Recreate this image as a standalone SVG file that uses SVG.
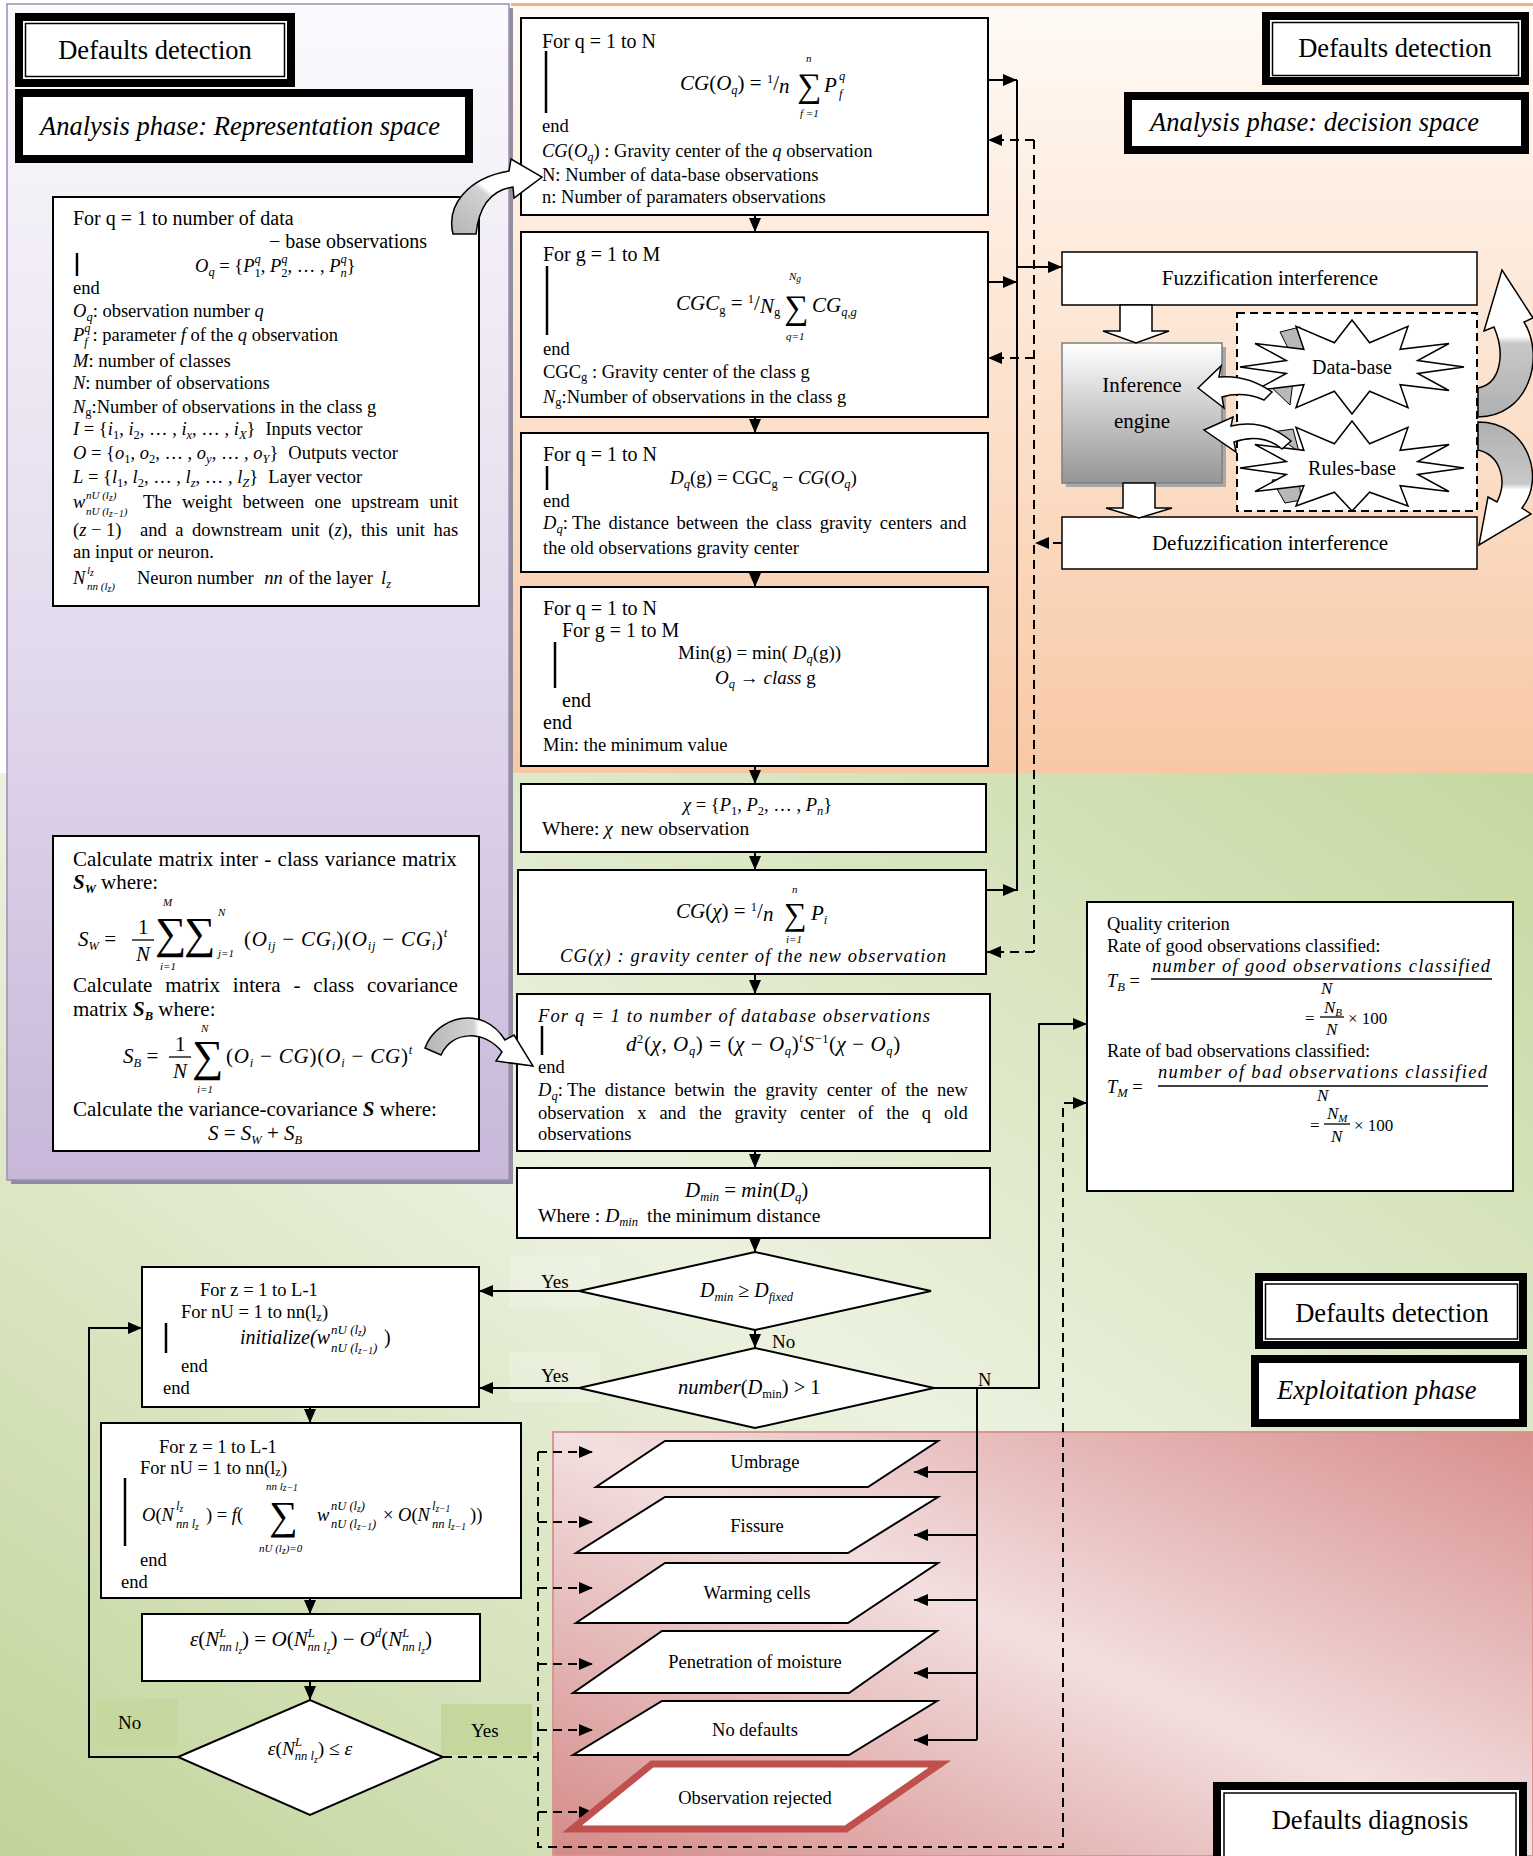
<svg xmlns="http://www.w3.org/2000/svg" width="1533" height="1856" viewBox="0 0 1533 1856">
<defs>
<style>
text{font-family:"Liberation Serif","Times New Roman",serif;fill:#000}
.t{font-size:18.5px}
.cm{font-size:20px}
.c{font-size:21px}
.h{font-size:26.5px}
.e{font-size:21px}
.f{font-size:21px}
.i{font-style:italic}
.n{font-style:normal}
.b{font-weight:bold}
.s{font-size:12.5px}
.l{font-size:11px}
.ss{font-size:9.5px}
.sg{font-size:34px;font-style:normal}
.sgb{font-size:44px;font-style:normal}
.fn{font-size:17px}
.box{fill:#fff;stroke:#000;stroke-width:2}
.ln{stroke:#000;stroke-width:2;fill:none}
.dl{stroke:#000;stroke-width:2;fill:none;stroke-dasharray:9 6}
.bar{stroke:#000;stroke-width:2.5}
.hd{fill:#fff;stroke:#000;stroke-width:8}
.hi{fill:none;stroke:#000;stroke-width:1.5}
.par{fill:#fff;stroke:#000;stroke-width:2}
.fr{stroke:#000;stroke-width:1.3}
.star{fill:#fff;stroke:#000;stroke-width:1.5}
.gp{fill:#b8b8b8;stroke:#000;stroke-width:1}
.lbg{fill:#c4d79c}
</style>
<linearGradient id="gOr" x1="0" y1="0" x2="0" y2="1"><stop offset="0" stop-color="#fffaf5"/><stop offset="0.4" stop-color="#fde7d6"/><stop offset="1" stop-color="#f8c8a4"/></linearGradient>
<linearGradient id="gPu" x1="0" y1="0" x2="0" y2="1"><stop offset="0" stop-color="#fbfafd"/><stop offset="0.55" stop-color="#e3daed"/><stop offset="1" stop-color="#c8b7d9"/></linearGradient>
<linearGradient id="gGr" x1="0" y1="1" x2="1" y2="0"><stop offset="0" stop-color="#c1d499"/><stop offset="0.5" stop-color="#ecf2e0"/><stop offset="1" stop-color="#c5d8a0"/></linearGradient>
<linearGradient id="gPk" x1="0" y1="1" x2="1" y2="0"><stop offset="0" stop-color="#d48a88"/><stop offset="0.5" stop-color="#f3dfdf"/><stop offset="1" stop-color="#d88f8e"/></linearGradient>
<linearGradient id="gIn" x1="0" y1="0" x2="0" y2="1"><stop offset="0" stop-color="#ffffff"/><stop offset="1" stop-color="#959595"/></linearGradient>
<linearGradient id="gCv" x1="0" y1="1" x2="1" y2="0"><stop offset="0" stop-color="#b5b5b5"/><stop offset="0.45" stop-color="#d2d2d2"/><stop offset="0.5" stop-color="#ffffff"/><stop offset="1" stop-color="#ffffff"/></linearGradient>
<linearGradient id="gCh" x1="0" y1="0" x2="1" y2="0"><stop offset="0" stop-color="#b5b5b5"/><stop offset="0.45" stop-color="#d2d2d2"/><stop offset="0.5" stop-color="#ffffff"/><stop offset="1" stop-color="#ffffff"/></linearGradient>
<linearGradient id="gUp" x1="0" y1="0" x2="0" y2="1"><stop offset="0" stop-color="#ffffff"/><stop offset="0.45" stop-color="#ffffff"/><stop offset="0.5" stop-color="#c8c8c8"/><stop offset="1" stop-color="#b0b0b0"/></linearGradient>
<linearGradient id="gDn" x1="0" y1="0" x2="0" y2="1"><stop offset="0" stop-color="#b0b0b0"/><stop offset="0.5" stop-color="#c8c8c8"/><stop offset="0.55" stop-color="#ffffff"/><stop offset="1" stop-color="#ffffff"/></linearGradient>
<marker id="ah" viewBox="0 0 14 12" refX="14" refY="6" markerWidth="14" markerHeight="12" markerUnits="userSpaceOnUse" orient="auto"><path d="M0,0 L14,6 L0,12 z" fill="#000"/></marker>
</defs>

<g id="background">
<rect x="0" y="0" width="1533" height="1856" fill="#fff"/>
<rect x="0" y="773" width="1533" height="1083" fill="url(#gGr)"/>
<rect x="511" y="4" width="1022" height="769" fill="url(#gOr)"/>
<line x1="511" y1="4.5" x2="1533" y2="4.5" stroke="#f4b183" stroke-width="3"/>
<rect x="11" y="8" width="502" height="1176" fill="#8f8f9c"/>
<rect x="7" y="4" width="502" height="1176" fill="url(#gPu)" stroke="#a08cb8" stroke-width="1.5"/>
<rect x="553" y="1432" width="980" height="424" fill="url(#gPk)" stroke="#d99694" stroke-width="2"/>
<rect x="509" y="1255" width="91" height="53" fill="#fff" opacity="0.2"/>
<rect x="509" y="1352" width="91" height="50" fill="#fff" opacity="0.2"/>
<rect class="lbg" x="97" y="1699" width="81" height="48" opacity="0.8"/>
<rect class="lbg" x="441" y="1704" width="91" height="51"/>
</g>

<g id="header-defaults-detection-tl">
<rect class="hd" x="19" y="17" width="272" height="66"/>
<rect class="hi" x="25.5" y="23.5" width="259" height="53"/>
<text class="h" x="155" y="59" text-anchor="middle">Defaults detection</text>
</g>
<g id="header-representation-space">
<rect class="hd" x="19" y="93" width="450" height="66"/>
<text class="h i" x="40" y="135">Analysis phase: Representation space</text>
</g>
<g id="header-defaults-detection-tr">
<rect class="hd" x="1266" y="16" width="259" height="65"/>
<rect class="hi" x="1272.5" y="22.5" width="246" height="53"/>
<text class="h" x="1395" y="57" text-anchor="middle">Defaults detection</text>
</g>
<g id="header-decision-space">
<rect class="hd" x="1128" y="96" width="397" height="54"/>
<text class="h i" x="1150" y="131">Analysis phase: decision space</text>
</g>
<g id="header-defaults-detection-br">
<rect class="hd" x="1259" y="1277" width="264" height="68"/>
<rect class="hi" x="1265.5" y="1284" width="252" height="55"/>
<text class="h" x="1392" y="1322" text-anchor="middle">Defaults detection</text>
</g>
<g id="header-exploitation-phase">
<rect class="hd" x="1255" y="1359" width="268" height="64"/>
<text class="h i" x="1277" y="1399">Exploitation phase</text>
</g>
<g id="header-defaults-diagnosis">
<rect class="hd" x="1217" y="1786" width="306" height="80"/>
<rect class="hi" x="1224" y="1793" width="292" height="70"/>
<text class="h" x="1370" y="1829" text-anchor="middle">Defaults diagnosis</text>
</g>

<g id="connectors">
<path class="ln" d="M755,215 V232" marker-end="url(#ah)"/>
<path class="ln" d="M755,417 V433" marker-end="url(#ah)"/>
<path class="ln" d="M755,572 V587" marker-end="url(#ah)"/>
<path class="ln" d="M755,766 V784" marker-end="url(#ah)"/>
<path class="ln" d="M755,852 V870" marker-end="url(#ah)"/>
<path class="ln" d="M755,974 V994" marker-end="url(#ah)"/>
<path class="ln" d="M755,1151 V1168" marker-end="url(#ah)"/>
<path class="ln" d="M755,1238 V1252" marker-end="url(#ah)"/>
<path class="ln" d="M755,1330 V1348" marker-end="url(#ah)"/>
<path class="ln" d="M988,80 H1017" marker-end="url(#ah)"/>
<path class="ln" d="M988,282 H1017" marker-end="url(#ah)"/>
<path class="ln" d="M987,890 H1017" marker-end="url(#ah)"/>
<path class="ln" d="M1017,80 V891"/>
<path class="ln" d="M1017,267 H1062" marker-end="url(#ah)"/>
<path class="dl" d="M1034,140 V952"/>
<path class="dl" d="M1034,140 H988" marker-end="url(#ah)"/>
<path class="dl" d="M1034,358 H988" marker-end="url(#ah)"/>
<path class="dl" d="M1034,952 H987" marker-end="url(#ah)"/>
<path class="dl" d="M1062,543 H1035" marker-end="url(#ah)"/>
<path class="ln" d="M579,1291 H479" marker-end="url(#ah)"/>
<path class="ln" d="M579,1388 H479" marker-end="url(#ah)"/>
<path class="ln" d="M934,1388 H1039 V1024 H1087" marker-end="url(#ah)"/>
<path class="ln" d="M977,1388 V1740"/>
<path class="ln" d="M977,1472 H914" marker-end="url(#ah)"/>
<path class="ln" d="M977,1535 H914" marker-end="url(#ah)"/>
<path class="ln" d="M977,1600 H914" marker-end="url(#ah)"/>
<path class="ln" d="M977,1673 H914" marker-end="url(#ah)"/>
<path class="ln" d="M977,1740 H914" marker-end="url(#ah)"/>
<path class="ln" d="M178,1757 H89 V1328 H142" marker-end="url(#ah)"/>
<path class="ln" d="M310,1407 V1423" marker-end="url(#ah)"/>
<path class="ln" d="M310,1598 V1614" marker-end="url(#ah)"/>
<path class="ln" d="M310,1681 V1700" marker-end="url(#ah)"/>
<path class="dl" d="M443,1757 H538"/>
<path class="dl" d="M538,1452 V1847 H1063 V1103 H1087" marker-end="url(#ah)"/>
<path class="dl" d="M538,1452 H593" marker-end="url(#ah)"/>
<path class="dl" d="M538,1522 H593" marker-end="url(#ah)"/>
<path class="dl" d="M538,1588 H593" marker-end="url(#ah)"/>
<path class="dl" d="M538,1664 H593" marker-end="url(#ah)"/>
<path class="dl" d="M538,1730 H593" marker-end="url(#ah)"/>
<path class="dl" d="M538,1812 H593" marker-end="url(#ah)"/>
<text class="t" x="541" y="1288" style="font-size:19px">Yes</text>
<text class="t" x="541" y="1382" style="font-size:19px">Yes</text>
<text class="t" x="772" y="1348" style="font-size:19px">No</text>
<text class="t" x="978" y="1386">N</text>
<text class="t" x="118" y="1729" style="font-size:19px">No</text>
<text class="t" x="471" y="1737" style="font-size:19px">Yes</text>
</g>

<g id="node-observations">
<rect class="box" x="53" y="197" width="426" height="409"/>
<text class="cm" x="73" y="225">For q = 1 to number of data</text>
<text class="cm" x="427" y="248" text-anchor="end">− base observations</text>
<line class="bar" x1="77" y1="253" x2="77" y2="276"/>
<text class="t" x="195" y="272"><tspan class="i">O</tspan><tspan class="s i" dy="4">q</tspan><tspan dy="-4"> = {</tspan><tspan class="i">P</tspan><tspan class="s" dy="5">1</tspan><tspan class="s i" dx="-6.25" dy="-14">q</tspan><tspan dy="9">, </tspan><tspan class="i">P</tspan><tspan class="s" dy="5">2</tspan><tspan class="s i" dx="-6.25" dy="-14">q</tspan><tspan dy="9">, … , </tspan><tspan class="i">P</tspan><tspan class="s i" dy="5">n</tspan><tspan class="s i" dx="-6.25" dy="-14">q</tspan><tspan dy="9">}</tspan></text>
<text class="t" x="73" y="294">end</text>
<text class="t" x="73" y="317"><tspan class="i">O</tspan><tspan class="s i" dy="4">q</tspan><tspan dy="-4">: observation number </tspan><tspan class="i">q</tspan></text>
<text class="t" x="73" y="341"><tspan class="i">P</tspan><tspan class="s i" dy="-9">q</tspan><tspan class="s i" dx="-6.25" dy="14">f</tspan><tspan dy="-5"> : parameter </tspan><tspan class="i">f</tspan> of the <tspan class="i">q</tspan> observation</text>
<text class="t" x="73" y="367"><tspan class="i">M</tspan>: number of classes</text>
<text class="t" x="73" y="389"><tspan class="i">N</tspan>: number of observations</text>
<text class="t" x="73" y="413"><tspan class="i">N</tspan><tspan class="s" dy="3">g</tspan><tspan dy="-3">:Number of observations in the class g</tspan></text>
<text class="t" x="73" y="435"><tspan class="i">I</tspan> = {<tspan class="i">i</tspan><tspan class="s" dy="4">1</tspan><tspan dy="-4">, </tspan><tspan class="i">i</tspan><tspan class="s" dy="4">2</tspan><tspan dy="-4">, … , </tspan><tspan class="i">i</tspan><tspan class="s i" dy="4">x</tspan><tspan dy="-4">, … , </tspan><tspan class="i">i</tspan><tspan class="s i" dy="4">X</tspan><tspan dy="-4">}</tspan><tspan dx="10">Inputs vector</tspan></text>
<text class="t" x="73" y="459"><tspan class="i">O</tspan> = {<tspan class="i">o</tspan><tspan class="s" dy="4">1</tspan><tspan dy="-4">, </tspan><tspan class="i">o</tspan><tspan class="s" dy="4">2</tspan><tspan dy="-4">, … , </tspan><tspan class="i">o</tspan><tspan class="s i" dy="4">y</tspan><tspan dy="-4">, … , </tspan><tspan class="i">o</tspan><tspan class="s i" dy="4">Y</tspan><tspan dy="-4">}</tspan><tspan dx="10">Outputs vector</tspan></text>
<text class="t" x="73" y="483"><tspan class="i">L</tspan> = {<tspan class="i">l</tspan><tspan class="s" dy="4">1</tspan><tspan dy="-4">, </tspan><tspan class="i">l</tspan><tspan class="s" dy="4">2</tspan><tspan dy="-4">, … , </tspan><tspan class="i">l</tspan><tspan class="s i" dy="4">z</tspan><tspan dy="-4">, … , </tspan><tspan class="i">l</tspan><tspan class="s i" dy="4">Z</tspan><tspan dy="-4">}</tspan><tspan dx="10">Layer vector</tspan></text>
<text class="t" x="73" y="508"><tspan class="i">w</tspan><tspan class="l i" x="86" y="499">nU (l</tspan><tspan class="ss i" dy="2">z</tspan><tspan class="l i" dy="-2">)</tspan><tspan class="l i" x="86" y="515">nU (l</tspan><tspan class="ss i" dy="2">z−1</tspan><tspan class="l i" dy="-2">)</tspan></text>
<text class="t" x="143" y="508" word-spacing="5.6">The weight between one upstream unit</text>
<text class="t" x="73" y="536">(<tspan class="i">z</tspan> − 1)</text>
<text class="t" x="140" y="536" word-spacing="3.9">and a downstream unit (<tspan class="i">z</tspan>), this unit has</text>
<text class="t" x="73" y="558">an input or neuron.</text>
<text class="t" x="73" y="584"><tspan class="i">N</tspan><tspan class="l i" x="87" y="574">l</tspan><tspan class="ss i" dy="2">z</tspan><tspan class="l i" x="87" y="590">nn (l</tspan><tspan class="ss i" dy="2">z</tspan><tspan class="l i" dy="-2">)</tspan></text>
<text class="t" x="137" y="584">Neuron number <tspan class="i" dx="6">nn</tspan><tspan dx="6">of the layer</tspan><tspan class="i" dx="8">l</tspan><tspan class="s i" dy="4">z</tspan></text>
</g>

<g id="node-variance-matrices">
<rect class="box" x="53" y="836" width="426" height="315"/>
<text class="c" x="73" y="866" word-spacing="1">Calculate matrix inter - class variance matrix</text>
<text class="c" x="73" y="889"><tspan class="b i">S</tspan><tspan class="b i s" dy="4">W</tspan><tspan dy="-4"> where:</tspan></text>
<text class="c" x="78" y="946"><tspan class="i">S</tspan><tspan class="s i" dy="4">W</tspan><tspan dy="-4"> =</tspan></text>
<text class="c" x="138" y="934">1</text>
<line class="fr" x1="132" y1="940" x2="154" y2="940"/>
<text class="c i" x="136" y="961">N</text>
<text class="l i"><tspan x="163" y="906">M</tspan><tspan class="sgb" x="155" y="948">∑</tspan><tspan x="160" y="970">i=1</tspan><tspan class="sgb" x="184" y="948">∑</tspan><tspan x="218" y="916">N</tspan><tspan x="218" y="957">j=1</tspan></text>
<text class="c" x="244" y="946" letter-spacing="0.8">(<tspan class="i">O</tspan><tspan class="s i" dy="4">ij</tspan><tspan dy="-4"> − </tspan><tspan class="i">CG</tspan><tspan class="s i" dy="4">i</tspan><tspan dy="-4">)(</tspan><tspan class="i">O</tspan><tspan class="s i" dy="4">ij</tspan><tspan dy="-4"> − </tspan><tspan class="i">CG</tspan><tspan class="s i" dy="4">i</tspan><tspan dy="-4">)</tspan><tspan class="s i" dy="-9">t</tspan></text>
<text class="c" x="73" y="992" word-spacing="7.6">Calculate matrix intera - class covariance</text>
<text class="c" x="73" y="1016">matrix <tspan class="b i">S</tspan><tspan class="b i s" dy="4">B</tspan><tspan dy="-4"> where:</tspan></text>
<text class="c" x="123" y="1063"><tspan class="i">S</tspan><tspan class="s i" dy="4">B</tspan><tspan dy="-4"> =</tspan></text>
<text class="c" x="175" y="1051">1</text>
<line class="fr" x1="169" y1="1057" x2="191" y2="1057"/>
<text class="c i" x="173" y="1078">N</text>
<text class="l i"><tspan x="201" y="1032">N</tspan><tspan class="sgb" x="192" y="1071">∑</tspan><tspan x="197" y="1093">i=1</tspan></text>
<text class="c" x="226" y="1063" letter-spacing="0.8">(<tspan class="i">O</tspan><tspan class="s i" dy="4">i</tspan><tspan dy="-4"> − </tspan><tspan class="i">CG</tspan>)(<tspan class="i">O</tspan><tspan class="s i" dy="4">i</tspan><tspan dy="-4"> − </tspan><tspan class="i">CG</tspan>)<tspan class="s i" dy="-9">t</tspan></text>
<text class="c" x="73" y="1116">Calculate the variance-covariance <tspan class="b i">S</tspan> where:</text>
<text class="c" x="208" y="1140"><tspan class="i">S</tspan> = <tspan class="i">S</tspan><tspan class="s i" dy="4">W</tspan><tspan dy="-4"> + </tspan><tspan class="i">S</tspan><tspan class="s i" dy="4">B</tspan></text>
</g>

<g id="node-gravity-observation">
<rect class="box" x="521" y="18" width="467" height="197"/>
<text class="cm" x="542" y="48">For q = 1 to N</text>
<line class="bar" x1="546" y1="51" x2="546" y2="113"/>
<text class="e" x="680" y="90"><tspan class="i">CG</tspan>(<tspan class="i">O</tspan><tspan class="s i" dy="4">q</tspan><tspan dy="-4">) = </tspan><tspan class="s" dy="-7">1</tspan><tspan dy="7">/</tspan><tspan class="i" dy="3">n</tspan></text>
<text class="l i"><tspan x="806" y="62">n</tspan><tspan class="sg" x="797" y="97">∑</tspan><tspan x="800" y="117">f =1</tspan></text>
<text class="e i"><tspan x="824" y="92">P</tspan><tspan class="s" x="839" y="80">q</tspan><tspan class="s" x="839" y="98">f</tspan></text>
<text class="t" x="542" y="132">end</text>
<text class="t" x="542" y="157"><tspan class="i">CG</tspan>(<tspan class="i">O</tspan><tspan class="s i" dy="4">q</tspan><tspan dy="-4">) : Gravity center of the </tspan><tspan class="i">q</tspan> observation</text>
<text class="t" x="542" y="181">N: Number of data-base observations</text>
<text class="t" x="542" y="203">n: Number of paramaters observations</text>
</g>

<g id="node-gravity-class">
<rect class="box" x="521" y="232" width="467" height="185"/>
<text class="cm" x="543" y="261">For g = 1 to M</text>
<line class="bar" x1="547" y1="266" x2="547" y2="335"/>
<text class="e" x="676" y="310"><tspan class="i">CGC</tspan><tspan class="s" dy="4">g</tspan><tspan dy="-4"> = </tspan><tspan class="s" dy="-7">1</tspan><tspan dy="7">/</tspan><tspan class="i" dy="3">N</tspan><tspan class="s" dy="3">g</tspan></text>
<text class="l i"><tspan x="789" y="280">N</tspan><tspan class="ss" dy="2">g</tspan><tspan class="sg" x="784" y="319">∑</tspan><tspan x="786" y="340">q=1</tspan></text>
<text class="e" x="812" y="312"><tspan class="i">CG</tspan><tspan class="s i" dy="4">q,g</tspan></text>
<text class="t" x="543" y="355">end</text>
<text class="t" x="543" y="378">CGC<tspan class="s" dy="3">g</tspan><tspan dy="-3"> : Gravity center of the class g</tspan></text>
<text class="t" x="543" y="403"><tspan class="i">N</tspan><tspan class="s" dy="3">g</tspan><tspan dy="-3">:Number of observations in the class g</tspan></text>
</g>

<g id="node-distance-class">
<rect class="box" x="521" y="433" width="467" height="139"/>
<text class="cm" x="543" y="461">For q = 1 to N</text>
<line class="bar" x1="547" y1="466" x2="547" y2="490"/>
<text class="t" x="670" y="484" style="font-size:19px"><tspan class="i">D</tspan><tspan class="s i" dy="4">q</tspan><tspan dy="-4">(g) = CGC</tspan><tspan class="s" dy="4">g</tspan><tspan dy="-4"> − </tspan><tspan class="i">CG</tspan>(<tspan class="i">O</tspan><tspan class="s i" dy="4">q</tspan><tspan dy="-4">)</tspan></text>
<text class="t" x="543" y="507">end</text>
<text class="t" x="543" y="529"><tspan class="i">D</tspan><tspan class="s i" dy="4">q</tspan><tspan dy="-4">:</tspan></text>
<text class="t" x="572" y="529" word-spacing="3">The distance between the class gravity centers and</text>
<text class="t" x="543" y="554">the old observations gravity center</text>
</g>

<g id="node-minimum">
<rect class="box" x="521" y="587" width="467" height="179"/>
<text class="cm" x="543" y="615">For q = 1 to N</text>
<text class="cm" x="562" y="637">For g = 1 to M</text>
<line class="bar" x1="555" y1="642" x2="555" y2="688"/>
<text class="t" x="678" y="659" style="font-size:19px">Min(g) = min( <tspan class="i">D</tspan><tspan class="s i" dy="4">q</tspan><tspan dy="-4">(g))</tspan></text>
<text class="t" x="715" y="684" style="font-size:19px"><tspan class="i">O</tspan><tspan class="s i" dy="4">q</tspan><tspan dy="-4"> → </tspan><tspan class="i">class</tspan> g</text>
<text class="cm" x="562" y="707">end</text>
<text class="cm" x="543" y="729">end</text>
<text class="t" x="543" y="751">Min: the minimum value</text>
</g>

<g id="node-new-observation">
<rect class="box" x="521" y="784" width="465" height="68"/>
<text class="t" x="683" y="811"><tspan class="i">χ</tspan> = {<tspan class="i">P</tspan><tspan class="s" dy="4">1</tspan><tspan dy="-4">, </tspan><tspan class="i">P</tspan><tspan class="s" dy="4">2</tspan><tspan dy="-4">, … , </tspan><tspan class="i">P</tspan><tspan class="s i" dy="4">n</tspan><tspan dy="-4">}</tspan></text>
<text class="t" x="542" y="835" style="font-size:19.5px">Where: <tspan class="i">χ</tspan><tspan dx="8">new observation</tspan></text>
</g>

<g id="node-gravity-new">
<rect class="box" x="518" y="870" width="468" height="104"/>
<text class="e" x="676" y="918"><tspan class="i">CG</tspan>(<tspan class="i">χ</tspan>) = <tspan class="s" dy="-7">1</tspan><tspan dy="7">/</tspan><tspan class="i" dy="3">n</tspan></text>
<text class="l i"><tspan x="792" y="893">n</tspan><tspan style="font-size:32px;font-style:normal" x="784" y="925">∑</tspan><tspan x="786" y="943">i=1</tspan></text>
<text class="e" x="811" y="920"><tspan class="i">P</tspan><tspan class="s i" dy="4">i</tspan></text>
<text class="t i" x="560" y="962" textLength="386" lengthAdjust="spacing">CG(χ) : gravity center of the new observation</text>
</g>

<g id="node-mahalanobis">
<rect class="box" x="517" y="994" width="473" height="157"/>
<text class="t i" x="538" y="1022" textLength="392" lengthAdjust="spacing">For q = 1 to number of database observations</text>
<line class="bar" x1="542" y1="1026" x2="542" y2="1055"/>
<text class="e" x="626" y="1051" letter-spacing="0.6"><tspan class="i">d</tspan><tspan class="s" dy="-8">2</tspan><tspan dy="8">(</tspan><tspan class="i">χ</tspan>, <tspan class="i">O</tspan><tspan class="s i" dy="4">q</tspan><tspan dy="-4">) = (</tspan><tspan class="i">χ</tspan> − <tspan class="i">O</tspan><tspan class="s i" dy="4">q</tspan><tspan dy="-4">)</tspan><tspan class="s i" dy="-9">t</tspan><tspan class="i" dy="9">S</tspan><tspan class="s" dy="-8">−1</tspan><tspan dy="8">(</tspan><tspan class="i">χ</tspan> − <tspan class="i">O</tspan><tspan class="s i" dy="4">q</tspan><tspan dy="-4">)</tspan></text>
<text class="t" x="538" y="1073">end</text>
<text class="t" x="538" y="1096"><tspan class="i">D</tspan><tspan class="s i" dy="4">q</tspan><tspan dy="-4">:</tspan></text>
<text class="t" x="567" y="1096" word-spacing="4.4">The distance betwin the gravity center of the new</text>
<text class="t" x="538" y="1119" word-spacing="8.3">observation x and the gravity center of the q old</text>
<text class="t" x="538" y="1140">observations</text>
</g>

<g id="node-dmin">
<rect class="box" x="517" y="1168" width="473" height="70"/>
<text class="e" x="685" y="1197"><tspan class="i">D</tspan><tspan class="s i" dy="4">min</tspan><tspan dy="-4"> = </tspan><tspan class="i">min</tspan>(<tspan class="i">D</tspan><tspan class="s i" dy="4">q</tspan><tspan dy="-4">)</tspan></text>
<text class="t" x="538" y="1222" style="font-size:19.5px">Where : <tspan class="i">D</tspan><tspan class="s i" dy="4">min</tspan><tspan dx="9" dy="-4">the minimum distance</tspan></text>
</g>

<g id="node-decision-dfixed">
<polygon class="box" points="579,1291 755,1252 931,1291 755,1330"/>
<text x="700" y="1297" style="font-size:20px"><tspan class="i">D</tspan><tspan class="s i" dy="4">min</tspan><tspan dy="-4"> ≥ </tspan><tspan class="i">D</tspan><tspan class="s i" dy="4">fixed</tspan></text>
</g>

<g id="node-decision-number">
<polygon class="box" points="579,1388 755,1348 934,1388 755,1428"/>
<text x="678" y="1394" style="font-size:20.5px"><tspan class="i">number</tspan>(<tspan class="i">D</tspan><tspan class="s" dy="4">min</tspan><tspan dy="-4">) &gt; 1</tspan></text>
</g>

<g id="node-initialize">
<rect class="box" x="142" y="1267" width="337" height="140"/>
<text class="t" x="200" y="1296">For z = 1 to L-1</text>
<text class="t" x="181" y="1318">For nU = 1 to nn(l<tspan class="s" dy="3">z</tspan><tspan dy="-3">)</tspan></text>
<line class="bar" x1="166" y1="1323" x2="166" y2="1353"/>
<text class="cm i" x="240" y="1344">initialize(w<tspan style="font-size:13px" x="331" y="1334">nU (l</tspan><tspan class="ss" dy="2">z</tspan><tspan style="font-size:13px" dy="-2">)</tspan><tspan style="font-size:13px" x="331" y="1352">nU (l</tspan><tspan class="ss" dy="2">z−1</tspan><tspan style="font-size:13px" dy="-2">)</tspan><tspan class="n" x="384" y="1344">)</tspan></text>
<text class="t" x="181" y="1372">end</text>
<text class="t" x="163" y="1394">end</text>
</g>

<g id="node-forward">
<rect class="box" x="101" y="1423" width="420" height="175"/>
<text class="t" x="159" y="1453">For z = 1 to L-1</text>
<text class="t" x="140" y="1474">For nU = 1 to nn(l<tspan class="s" dy="2">z</tspan><tspan dy="-2">)</tspan></text>
<line class="bar" x1="125" y1="1478" x2="125" y2="1546"/>
<text class="t" x="142" y="1521"><tspan class="i">O</tspan>(<tspan class="i">N</tspan><tspan class="s i" x="176" y="1510">l</tspan><tspan class="ss i" dy="2">z</tspan><tspan class="s i" x="176" y="1528">nn l</tspan><tspan class="ss i" dy="2">z</tspan><tspan x="206" y="1521">) = </tspan><tspan class="i">f</tspan>(</text>
<text class="l i"><tspan x="266" y="1490">nn l</tspan><tspan class="ss" dy="1">z−1</tspan><tspan style="font-size:40px;font-style:normal" x="269" y="1529">∑</tspan><tspan x="259" y="1552">nU (l</tspan><tspan class="ss" dy="2">z</tspan><tspan dy="-2">)=0</tspan></text>
<text class="t" x="317" y="1521"><tspan class="i">w</tspan><tspan class="s i" x="331" y="1510">nU (l</tspan><tspan class="ss i" dy="2">z</tspan><tspan class="s i" dy="-2">)</tspan><tspan class="s i" x="331" y="1528">nU (l</tspan><tspan class="ss i" dy="2">z−1</tspan><tspan class="s i" dy="-2">)</tspan><tspan x="383" y="1521">× </tspan><tspan class="i">O</tspan>(<tspan class="i">N</tspan><tspan class="s i" x="432" y="1510">l</tspan><tspan class="ss i" dy="2">z−1</tspan><tspan class="s i" x="432" y="1528">nn l</tspan><tspan class="ss i" dy="2">z−1</tspan><tspan x="470" y="1521">))</tspan></text>
<text class="t" x="140" y="1566">end</text>
<text class="t" x="121" y="1588">end</text>
</g>

<g id="node-error">
<rect class="box" x="142" y="1614" width="338" height="67"/>
<text class="f" x="311" y="1646" text-anchor="middle"><tspan class="i">ε</tspan>(<tspan class="i">N</tspan><tspan class="s i" dy="-9">L</tspan><tspan class="s i" dx="-7" dy="14">nn l</tspan><tspan class="ss i" dy="3">z</tspan><tspan dy="-8">) = </tspan><tspan class="i">O</tspan>(<tspan class="i">N</tspan><tspan class="s i" dy="-9">L</tspan><tspan class="s i" dx="-7" dy="14">nn l</tspan><tspan class="ss i" dy="3">z</tspan><tspan dy="-8">) − </tspan><tspan class="i">O</tspan><tspan class="s i" dy="-9">d</tspan><tspan dy="9">(</tspan><tspan class="i">N</tspan><tspan class="s i" dy="-9">L</tspan><tspan class="s i" dx="-7" dy="14">nn l</tspan><tspan class="ss i" dy="3">z</tspan><tspan dy="-8">)</tspan></text>
</g>

<g id="node-decision-error">
<polygon class="box" points="178,1757 310,1700 443,1757 310,1815"/>
<text x="310" y="1755" text-anchor="middle" style="font-size:19.5px"><tspan class="i">ε</tspan>(<tspan class="i">N</tspan><tspan class="s i" dy="-9">L</tspan><tspan class="s i" dx="-7" dy="14">nn l</tspan><tspan class="ss i" dy="3">z</tspan><tspan dy="-8">) ≤ </tspan><tspan class="i">ε</tspan></text>
</g>

<g id="node-quality">
<rect class="box" x="1087" y="902" width="426" height="289"/>
<text class="t" x="1107" y="930">Quality criterion</text>
<text class="t" x="1107" y="952">Rate of good observations classified:</text>
<text class="t" x="1107" y="987"><tspan class="i">T</tspan><tspan class="s i" dy="4">B</tspan><tspan dy="-4"> =</tspan></text>
<text class="t i" x="1152" y="972" textLength="338" lengthAdjust="spacing">number of good observations classified</text>
<line class="fr" x1="1151" y1="979" x2="1492" y2="979"/>
<line class="fr" x1="1320" y1="1017" x2="1344" y2="1017"/>
<text class="fn"><tspan class="i" x="1321" y="994">N</tspan><tspan x="1305" y="1024">=</tspan><tspan class="i" x="1324" y="1013">N</tspan><tspan class="l i" dy="3">B</tspan><tspan class="i" x="1326" y="1035">N</tspan><tspan x="1348" y="1024">× 100</tspan></text>
<text class="t" x="1107" y="1057">Rate of bad observations classified:</text>
<text class="t" x="1107" y="1093"><tspan class="i">T</tspan><tspan class="s i" dy="4">M</tspan><tspan dy="-4"> =</tspan></text>
<text class="t i" x="1158" y="1078" textLength="329" lengthAdjust="spacing">number of bad observations classified</text>
<line class="fr" x1="1158" y1="1086" x2="1488" y2="1086"/>
<line class="fr" x1="1324" y1="1124" x2="1350" y2="1124"/>
<text class="fn"><tspan class="i" x="1317" y="1101">N</tspan><tspan x="1310" y="1131">=</tspan><tspan class="i" x="1327" y="1119">N</tspan><tspan class="l i" dy="3">M</tspan><tspan class="i" x="1331" y="1142">N</tspan><tspan x="1354" y="1131">× 100</tspan></text>
</g>

<g id="node-fuzzification">
<rect x="1062" y="252" width="415" height="53" fill="#fff" stroke="#000" stroke-width="1.5"/>
<text class="f" x="1270" y="285" text-anchor="middle">Fuzzification interference</text>
</g>
<g id="node-inference-engine">
<rect x="1066" y="347" width="160" height="140" fill="#a8a8a8"/>
<rect x="1062" y="343" width="160" height="140" fill="url(#gIn)" stroke="#7f7f7f" stroke-width="1.5"/>
<text class="f" x="1142" y="392" text-anchor="middle">Inference</text>
<text class="f" x="1142" y="428" text-anchor="middle">engine</text>
</g>
<g id="node-defuzzification">
<rect x="1062" y="517" width="415" height="52" fill="#fff" stroke="#000" stroke-width="1.5"/>
<text class="f" x="1270" y="550" text-anchor="middle">Defuzzification interference</text>
</g>
<g id="fuzzy-block-arrows">
<polygon points="1120,305 1152,305 1152,331 1169,331 1136,343 1103,331 1120,331" fill="#fff" stroke="#000" stroke-width="1.5"/>
<polygon points="1123,483 1155,483 1155,508 1172,508 1139,518 1106,508 1123,508" fill="#fff" stroke="#000" stroke-width="1.5"/>
</g>
<g id="node-knowledge-base">
<rect x="1237" y="313" width="240" height="198" fill="#fff" stroke="#000" stroke-width="2" stroke-dasharray="8 5"/>
<polygon class="gp" points="1280,332 1300,327 1306,350 1290,352"/>
<polygon class="gp" points="1270,386 1293,381 1290,405"/>
<polygon class="gp" points="1272,432 1293,429 1299,452"/>
<polygon class="gp" points="1272,480 1299,478 1301,500 1285,503"/>
</g>
<g id="node-data-base">
<polygon class="star" points="1464,367 1417.7,373.5 1449,390.5 1400.1,384.7 1408,407.7 1369.6,391.2 1352,414 1334.4,391.2 1296,407.7 1303.9,384.7 1255,390.5 1286.3,373.5 1240,367 1286.3,360.5 1255,343.5 1303.9,349.3 1296,326.3 1334.4,342.8 1352,320 1369.6,342.8 1408,326.3 1400.1,349.3 1449,343.5 1417.7,360.5"/>
<text class="f" x="1352" y="374" text-anchor="middle" style="font-size:20px">Data-base</text>
</g>
<g id="node-rules-base">
<polygon class="star" points="1464,468 1417.7,474.5 1449,491.5 1400.1,485.7 1408,506 1369.6,492.2 1352,511 1334.4,492.2 1296,506 1303.9,485.7 1255,491.5 1286.3,474.5 1240,468 1286.3,461.5 1255,444.5 1303.9,450.3 1296,427.3 1334.4,443.8 1352,421 1369.6,443.8 1408,427.3 1400.1,450.3 1449,444.5 1417.7,461.5"/>
<text class="f" x="1352" y="475" text-anchor="middle" style="font-size:20px">Rules-base</text>
</g>
<g id="fuzzy-curved-arrows">
<path d="M1198,388 L1221,366 L1219,377 C1240,375 1258,382 1272,392 L1264,400 C1250,394 1236,393 1222,397 L1224,408 Z" fill="#fff" stroke="#000" stroke-width="1.5"/>
<path d="M1204,430 L1233,417 L1231,426 C1252,421 1272,425 1291,441 L1282,449 C1268,437 1250,436 1234,442 L1236,452 Z" fill="#fff" stroke="#000" stroke-width="1.5"/>
<path d="M1478,417 C1528,417 1546,358 1524,322 L1533,318 L1502,270 L1484,331 L1494,327 C1506,355 1500,384 1478,388 Z" fill="url(#gUp)" stroke="#000" stroke-width="1.5"/>
<path d="M1478,422 C1528,422 1546,478 1522,508 L1531,514 L1479,545 L1488,497 L1497,502 C1508,480 1500,455 1478,450 Z" fill="url(#gDn)" stroke="#000" stroke-width="1.5"/>
</g>

<g id="node-umbrage">
<polygon class="par" points="665,1441 938,1441 868,1487 596,1487"/>
<text class="t" x="765" y="1468" text-anchor="middle">Umbrage</text>
</g>
<g id="node-fissure">
<polygon class="par" points="665,1497 938,1497 848,1553 576,1553"/>
<text class="t" x="757" y="1532" text-anchor="middle">Fissure</text>
</g>
<g id="node-warming-cells">
<polygon class="par" points="665,1563 938,1563 848,1623 576,1623"/>
<text class="t" x="757" y="1599" text-anchor="middle">Warming cells</text>
</g>
<g id="node-penetration">
<polygon class="par" points="662,1631 937,1631 849,1693 573,1693"/>
<text class="t" x="755" y="1668" text-anchor="middle">Penetration of moisture</text>
</g>
<g id="node-no-defaults">
<polygon class="par" points="662,1701 937,1701 849,1755 573,1755"/>
<text class="t" x="755" y="1736" text-anchor="middle">No defaults</text>
</g>
<g id="node-rejected">
<polygon points="652,1764 940,1764 846,1829 572,1829" fill="#fff" stroke="#c0504d" stroke-width="7"/>
<text class="t" x="755" y="1804" text-anchor="middle">Observation rejected</text>
</g>

<g id="transfer-arrows">
<path d="M453,234 C446,205 468,178 509,171 L511,159 L542,177 L514,198 L513,187 C491,190 479,206 476,234 Z" fill="url(#gCv)" stroke="#000" stroke-width="1.5"/>
<path d="M425,1048 C437,1016 483,1004 505,1040 L514,1035 L533,1066 L496,1061 L502,1052 C485,1030 452,1030 441,1055 Z" fill="url(#gCh)" stroke="#000" stroke-width="1.5"/>
</g>
</svg>
